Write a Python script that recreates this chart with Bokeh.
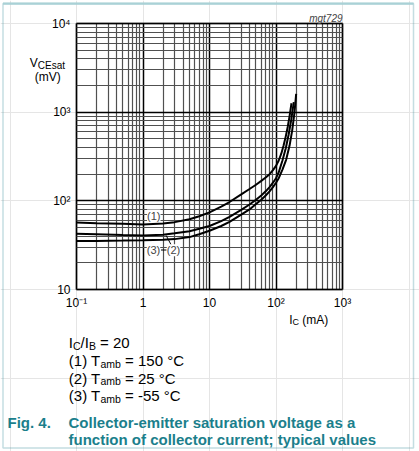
from bokeh.plotting import figure
from bokeh.models import (Range1d, FixedTicker, Label, Arrow, LogAxis, Grid, BoxAnnotation)
from bokeh.embed import file_html
from bokeh.resources import INLINE

# ---- data ----
ic_150 = [0.1, 0.2, 0.5, 1, 2, 3, 5, 7, 10, 15, 20, 30, 40, 50, 60, 70, 80, 90, 100,
          110, 120, 130, 140, 150, 160, 171]
vce_150 = [57, 56, 55, 54, 55.5, 57.5, 62, 67, 74, 86, 97, 118, 136, 152, 168, 183, 200, 222, 248,
           285, 340, 420, 530, 680, 900, 1260]

ic_25 = [0.1, 0.2, 0.5, 1, 2, 3, 5, 7, 10, 15, 20, 30, 40, 50, 60, 70, 80, 90, 100,
         110, 125, 140, 155, 170, 185]
vce_25 = [42.5, 42, 41.2, 40.7, 41.5, 43, 45.5, 48.5, 52, 59, 66, 79, 91, 103, 115, 128, 143, 160, 180,
          210, 285, 390, 560, 830, 1300]

ic_m55 = [0.1, 0.2, 0.5, 1, 2, 3, 5, 7, 10, 15, 20, 30, 40, 50, 60, 70, 80, 90, 100,
          110, 125, 142, 160, 175, 190, 201]
vce_m55 = [35.2, 35.3, 35.6, 36, 36.5, 37, 39, 42, 46, 52, 58, 70, 80, 92, 103, 115, 128, 143, 160,
           180, 225, 290, 420, 620, 1000, 1610]

x_ticks = [0.1, 1, 10, 100, 1000]
x_tick_labels = ["10\u207b\u00b9", "1", "10", "10\u00b2", "10\u00b3"]
y_ticks = [10, 100, 1000, 10000]
y_tick_labels = ["10", "10\u00b2", "10\u00b3", "10\u2074"]

FONT = "Liberation Sans"
TEAL = "#1b7f8c"
W, H = 419, 451

# page pixel -> data (chart area: x 76..342 for 0.1..1000, y 23..289 for 1e4..10)
def X(px):
    return 10 ** ((px - 76.0) / 66.5 - 1.0)

def Y(py):
    return 10 ** (4.0 - (py - 23.0) / (266.0 / 3.0))

p = figure(width=W, height=H, x_axis_type="log", y_axis_type="log",
           x_axis_location=None, y_axis_location=None,
           x_range=Range1d(X(0), X(W)), y_range=Range1d(Y(H), Y(0)),
           min_border=0, output_backend="svg", toolbar_location=None)
p.background_fill_color = "white"
p.border_fill_color = "white"
p.outline_line_color = None

minor_x = [m * d for d in [0.1, 1, 10, 100] for m in range(2, 10)]
minor_y = [m * d for d in [10, 100, 1000] for m in range(2, 10)]
xt = FixedTicker(ticks=x_ticks, minor_ticks=minor_x)
yt = FixedTicker(ticks=y_ticks, minor_ticks=minor_y)

has_cb = "cross_bounds" in Grid.properties()
for dim, tk, cb in ((0, xt, (10, 10000)), (1, yt, (0.1, 1000))):
    kw = dict(dimension=dim, ticker=tk, grid_line_color="black", grid_line_width=1.5,
              minor_grid_line_color="#505050", minor_grid_line_width=1.2)
    if has_cb:
        kw["cross_bounds"] = cb
    p.add_layout(Grid(**kw))

xaxis = LogAxis(ticker=xt, fixed_location=10, major_label_overrides=dict(zip(x_ticks, x_tick_labels)))
yaxis = LogAxis(ticker=yt, fixed_location=0.1, major_label_overrides=dict(zip(y_ticks, y_tick_labels)))
for ax in (xaxis, yaxis):
    ax.axis_line_color = None
    ax.major_tick_line_color = None
    ax.minor_tick_line_color = None
    ax.major_tick_out = 0
    ax.major_tick_in = 0
    ax.minor_tick_out = 0
    ax.minor_tick_in = 0
    ax.major_label_text_font = FONT
    ax.major_label_text_font_size = "12px"
    ax.major_label_text_color = "black"
    ax.major_label_standoff = 6
p.add_layout(xaxis, "below")
p.add_layout(yaxis, "left")

for xs, ys in ((ic_150, vce_150), (ic_25, vce_25), (ic_m55, vce_m55)):
    p.line(xs, ys, line_color="black", line_width=2)

# chart frame
p.add_layout(BoxAnnotation(left=0.1, right=1000, bottom=10, top=10000, fill_color=None,
                           line_color="black", line_width=2))

AW = {' ': 278, '(': 333, ')': 333, 'T': 611, '=': 584, '\u00b0': 400, 'C': 722, 'I': 278,
      '/': 278, 'B': 667, '-': 333, 'a': 556, 'm': 833, 'b': 556, 'A': 667, 'V': 667,
      'E': 667, 's': 500, 't': 278}

def tw(s, size):
    return sum(AW.get(c, 556) for c in s) * size / 1000.0

def rich(x0, base, segs, color="black"):
    x = x0
    for txt, size, dy in segs:
        lead = len(txt) - len(txt.lstrip(' '))
        x += lead * 0.278 * size
        t = txt.strip(' ')
        p.add_layout(Label(x=X(x), y=Y(base + dy), text=t, text_font=FONT,
                           text_font_size=f"{size}px", text_color=color,
                           text_align="left", text_baseline="alphabetic"))
        x += tw(t, size)

# leaders and curve labels
p.add_layout(Arrow(start=None, end=None, x_start=X(170.7), y_start=Y(244.5),
                   x_end=X(165.7), y_end=Y(235), line_color="black", line_width=1))
p.add_layout(Arrow(start=None, end=None, x_start=X(160.5), y_start=Y(249.5),
                   x_end=X(166), y_end=Y(249.5), line_color="black", line_width=1))
for txt, cx, cy in (("(1)", 153.3, 215), ("(3)", 153, 249.7), ("(2)", 173, 249.7)):
    p.add_layout(Label(x=X(cx), y=Y(cy), text=txt, text_font=FONT, text_font_size="11px",
                       text_align="center", text_baseline="middle",
                       background_fill_color="white"))

# axis titles
rich(29.3, 62, [("V", 12, 0), ("CEsat", 10, 2.5)])
rich(34.3, 76, [("(mV)", 12, 0)])
rich(288.7, 319, [("I", 12, 0), ("C", 9, 2), (" (mA)", 12, 0)])
p.add_layout(Label(x=X(342), y=Y(18), text="mgt729", text_font=FONT, text_font_size="10px",
                   text_font_style="italic", text_align="right", text_baseline="alphabetic"))

# conditions
rich(68.3, 342.3, [("I", 15, 0), ("C", 10.5, 3), ("/I", 15, 0), ("B", 10.5, 3), (" = 20", 15, 0)])
rich(68.3, 360.0, [("(1) T", 15, 0), ("amb", 10.5, 3), (" = 150 \u00b0C", 15, 0)])
rich(68.3, 377.7, [("(2) T", 15, 0), ("amb", 10.5, 3), (" = 25 \u00b0C", 15, 0)])
rich(68.3, 395.3, [("(3) T", 15, 0), ("amb", 10.5, 3), (" = -55 \u00b0C", 15, 0)])

# caption
for txt, x0, base in (("Fig. 4.", 7, 421.5),
                      ("Collector-emitter saturation voltage as a", 68, 421.5),
                      ("function of collector current; typical values", 68, 439)):
    p.add_layout(Label(x=X(x0), y=Y(base), text=txt, text_font=FONT, text_font_size="15px",
                       text_font_style="bold", text_color=TEAL, text_align="left",
                       text_baseline="alphabetic"))

# panel border (teal)
p.add_layout(BoxAnnotation(left=X(2.5), right=X(413), top=Y(3), bottom=Y(447.5), fill_color=None,
                           line_color="#3b8f9a", line_width=1.5))
p.add_layout(BoxAnnotation(left=X(2.5), right=X(413), top=Y(2), bottom=Y(4.2), fill_color="#a9d1d6",
                           fill_alpha=1, line_color=None))

open("out.html", "w").write(file_html(p, INLINE))
